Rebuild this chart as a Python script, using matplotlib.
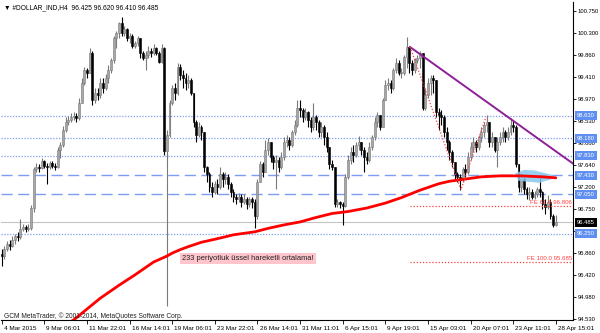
import matplotlib
matplotlib.use('Agg')
import matplotlib.pyplot as plt
import matplotlib.transforms as mtransforms
import numpy as np

plt.rcParams['font.family'] = ['Liberation Sans', 'DejaVu Sans']

# 4H candles, bar 0 = 4 Mar 2015, last bar = 28 Apr 15:01
first_open = 95.85
closes = [95.80, 95.95, 96.05, 96.00, 96.12, 96.20, 96.18, 96.35, 96.38, 96.34,
          96.36, 96.78, 97.55, 97.60, 97.58, 97.72, 97.62, 97.60, 97.68, 97.62,
          97.60, 97.95, 98.05, 98.35, 98.50, 98.55, 98.60, 98.62, 98.58, 98.90,
          99.30, 99.55, 99.50, 99.90, 98.95, 99.10, 99.05, 99.30, 99.20, 99.40,
          99.55, 99.75, 100.20, 100.30, 100.50, 100.30, 100.38, 100.20, 100.25, 100.05,
          100.10, 100.20, 99.90, 99.80, 99.85, 99.95, 99.90, 100.00, 99.90, 99.72,
          100.00, 97.93, 98.25, 98.90, 99.20, 99.10, 99.62, 99.45, 99.40, 99.30,
          99.35, 99.10, 98.50, 98.25, 98.40, 98.30, 97.60, 97.45, 97.20, 97.10,
          97.25, 97.20, 97.45, 97.35, 97.40, 97.25, 97.10, 97.00, 96.95, 97.00,
          96.90, 96.95, 96.85, 96.95, 96.90, 96.60, 97.30, 97.65, 97.50, 97.95,
          98.10, 97.80, 97.70, 97.75, 97.60, 97.80, 98.10, 98.15, 98.05, 98.30,
          98.45, 98.80, 98.75, 98.60, 98.70, 98.55, 98.40, 98.60, 98.50, 98.30,
          98.40, 98.20, 98.00, 97.65, 97.60, 96.85, 96.90, 96.85, 96.82, 97.40,
          97.75, 97.90, 97.85, 98.05, 98.10, 97.95, 97.80, 97.75, 98.00, 98.20,
          98.50, 98.65, 98.40, 98.95, 99.25, 99.30, 99.20, 99.55, 99.70, 99.50,
          99.50, 99.82, 100.02, 99.70, 99.55, 99.75, 99.80, 99.90, 98.80, 99.05,
          99.30, 99.40, 99.35, 98.70, 98.65, 98.60, 98.30, 98.10, 97.90, 97.70,
          97.45, 97.40, 97.35, 97.55, 97.50, 97.80, 98.00, 98.10, 98.00, 98.20,
          98.30, 98.45, 98.50, 98.10, 98.20, 97.95, 98.10, 98.20, 98.30, 98.20,
          98.30, 98.45, 98.40, 97.65, 97.20, 97.35, 97.15, 97.05, 97.10, 97.00,
          97.05, 97.15, 97.10, 96.85, 96.80, 96.90, 96.60, 96.425, 96.485]
highs = [95.95, 96.00, 96.10, 96.12, 96.20, 96.25, 96.28, 96.55, 96.45, 96.42,
         96.44, 96.83, 97.60, 97.68, 97.66, 97.78, 97.75, 97.68, 97.73, 97.72,
         97.67, 98.00, 98.10, 98.42, 98.60, 98.62, 98.68, 98.70, 98.68, 99.00,
         99.40, 99.62, 99.60, 100.00, 99.95, 99.20, 99.20, 99.40, 99.40, 99.48,
         99.65, 99.80, 100.25, 100.35, 100.52, 100.63, 100.45, 100.40, 100.30, 100.28,
         100.15, 100.25, 100.20, 99.95, 99.95, 100.05, 100.00, 100.08, 100.02, 99.95,
         100.08, 100.02, 98.35, 98.95, 99.25, 99.30, 99.70, 99.68, 99.55, 99.50,
         99.45, 99.40, 99.10, 98.55, 98.50, 98.45, 98.30, 97.62, 97.50, 97.30,
         97.32, 97.35, 97.60, 97.50, 97.50, 97.45, 97.30, 97.15, 97.05, 97.08,
         97.05, 97.05, 97.00, 97.00, 97.00, 96.95, 97.35, 97.72, 97.70, 98.15,
         98.18, 98.10, 97.85, 97.85, 97.80, 97.90, 98.20, 98.25, 98.20, 98.35,
         98.55, 98.95, 98.95, 98.80, 98.78, 98.72, 98.60, 98.90, 98.65, 98.55,
         98.50, 98.45, 98.30, 98.00, 97.75, 97.60, 96.95, 96.92, 96.90, 97.45,
         97.85, 98.00, 98.05, 98.10, 98.22, 98.10, 98.00, 97.90, 98.10, 98.25,
         98.60, 98.70, 98.65, 99.00, 99.35, 99.40, 99.35, 99.60, 99.80, 99.75,
         99.60, 99.85, 100.22, 100.05, 99.75, 99.80, 99.85, 99.95, 99.90, 99.20,
         99.40, 99.46, 99.46, 99.35, 98.80, 98.75, 98.65, 98.40, 98.15, 97.95,
         97.70, 97.50, 97.45, 97.60, 97.65, 97.90, 98.10, 98.20, 98.15, 98.25,
         98.40, 98.50, 98.65, 98.50, 98.30, 98.20, 98.20, 98.30, 98.40, 98.35,
         98.40, 98.58, 98.55, 98.45, 97.65, 97.45, 97.40, 97.20, 97.20, 97.15,
         97.12, 97.20, 97.42, 97.12, 96.95, 97.03, 96.95, 96.65, 96.62]
lows = [95.60, 95.75, 95.90, 95.92, 95.98, 96.05, 96.10, 96.15, 96.30, 96.28,
        96.30, 96.33, 96.70, 97.50, 97.50, 97.55, 97.58, 97.25, 97.55, 97.57,
        97.54, 97.58, 97.78, 98.00, 98.30, 98.45, 98.50, 98.55, 98.50, 98.55,
        98.90, 99.25, 99.40, 99.50, 98.85, 98.90, 98.95, 99.00, 99.10, 99.15,
        99.30, 99.50, 99.70, 100.00, 100.20, 100.25, 100.25, 100.15, 100.10, 100.00,
        100.00, 100.05, 99.80, 99.75, 99.55, 99.80, 99.82, 99.85, 99.85, 99.70,
        99.70, 97.85, 94.80, 98.20, 98.85, 98.95, 99.05, 99.35, 99.20, 99.15,
        99.20, 99.05, 98.40, 98.10, 98.20, 98.15, 97.50, 97.30, 97.10, 97.00,
        97.05, 97.05, 97.15, 97.20, 97.25, 97.15, 97.00, 96.90, 96.85, 96.90,
        96.80, 96.85, 96.75, 96.80, 96.78, 96.37, 96.55, 97.30, 97.40, 97.50,
        97.85, 97.70, 97.55, 97.15, 97.50, 97.55, 97.75, 98.00, 97.95, 98.00,
        98.25, 98.40, 98.60, 98.50, 98.55, 98.40, 98.30, 98.35, 98.35, 98.20,
        98.20, 98.05, 97.90, 97.55, 97.54, 96.80, 96.80, 96.78, 96.43, 96.80,
        97.35, 97.65, 97.70, 97.80, 97.95, 97.85, 97.50, 97.65, 97.70, 97.95,
        98.15, 98.40, 98.35, 98.40, 98.95, 99.15, 99.10, 99.15, 99.50, 99.45,
        99.40, 99.45, 99.60, 99.50, 99.45, 99.50, 99.70, 99.60, 98.75, 98.75,
        99.00, 99.05, 99.10, 98.60, 98.35, 98.45, 98.20, 97.95, 97.75, 97.60,
        97.35, 97.30, 97.14, 97.30, 97.40, 97.45, 97.75, 97.90, 97.90, 97.95,
        98.10, 98.20, 98.30, 98.00, 98.00, 97.90, 97.60, 98.05, 98.10, 98.10,
        98.15, 98.25, 98.30, 97.60, 97.10, 97.10, 97.05, 96.95, 96.93, 96.95,
        96.95, 97.00, 97.00, 96.75, 96.65, 96.75, 96.55, 96.38, 96.41]

# 233 period EMA (bar index, price)
ema_bars = [24, 27, 32, 37, 44, 50, 57, 62, 64, 67, 70, 75, 80, 84, 87, 91, 95,
            100, 106, 112, 118, 124, 130, 137, 144, 150, 157, 164, 168, 172,
            176, 180, 187, 195, 203, 208]
ema_vals = [94.42, 94.51, 94.73, 94.95, 95.21, 95.42, 95.68, 95.80, 95.86, 95.93,
            95.99, 96.08, 96.14, 96.19, 96.23, 96.26, 96.29, 96.36, 96.43, 96.49,
            96.58, 96.66, 96.70, 96.77, 96.87, 96.98, 97.13, 97.26, 97.31, 97.34,
            97.37, 97.40, 97.42, 97.42, 97.40, 97.38]

dotted_levels = [98.630, 98.180, 97.830, 96.250]
dashed_levels = [97.430, 97.050]
bid = 96.485
fe_levels = [96.806, 95.685]
fe_names = ['FE 61.8 96.806', 'FE 100.0 95.685']
fe_bars = [153.3, 172.4, 181.8]          # A, B, C
fe_prices = [100.02, 97.14, 98.61]
trend_bars = [153.3, 191.0]
trend_prices = [100.02, 98.57]
blob_bars = [192.7, 196.0, 200.0, 207.3, 207.3, 202.0, 194.0]
blob_prices = [97.47, 97.54, 97.53, 97.43, 97.37, 97.28, 97.32]

ytick_vals = [100.750, 100.300, 99.860, 99.410, 98.970, 98.530, 98.080, 97.640,
              97.200, 96.750, 96.310, 95.860, 95.420, 94.980, 94.530]
xtick_labels = ['4 Mar 2015', '9 Mar 06:01', '11 Mar 22:01', '16 Mar 14:01',
                '19 Mar 06:01', '23 Mar 22:01', '26 Mar 14:01', '31 Mar 11:01',
                '6 Apr 15:01', '9 Apr 19:01', '15 Apr 03:01', '20 Apr 07:01',
                '23 Apr 11:01', '28 Apr 15:01']

c = np.array(closes)
o = np.array([first_open] + closes[:-1])
h = np.maximum(np.array(highs), np.maximum(o, c))
l = np.minimum(np.array(lows), np.minimum(o, c))
x = np.arange(len(c))
up = c >= o

fig = plt.figure(figsize=(6, 3.33), dpi=100)
ax = fig.add_axes([1 / 600, 13 / 333, 572 / 600, 318 / 333])
ax.set_xlim(-0.26, 214.45)
ax.set_ylim(94.51, 100.93)

# levels
for lv in dotted_levels:
    ax.axhline(lv, color='#7d9ef0', lw=0.9, ls=(0, (1, 1.3)), zorder=1)
for lv in dashed_levels:
    ax.axhline(lv, color='#7d9ef0', lw=1.0, ls=(0, (8, 4)), zorder=1)
ax.axhline(bid, color='#c4c4c4', lw=0.8, zorder=1)

# candles
wick_col = np.where(up, '#7a7a7a', 'black')
body_col = np.where(up, '#a6a6a6', 'black')
ax.vlines(x, l, h, colors=wick_col, lw=0.8, zorder=2)
ax.bar(x, np.maximum(np.abs(c - o), 0.012), bottom=np.minimum(o, c), width=0.72,
       color=body_col, edgecolor=wick_col, lw=0.4, zorder=3)

# EMA
ax.plot(ema_bars, ema_vals, color='#ff0000', lw=2, zorder=4,
        solid_capstyle='round', solid_joinstyle='round')

# blob
ax.fill(blob_bars, blob_prices, color='#87c8ee', alpha=0.85, lw=0, zorder=3.5)

# trend line (ray)
slope = (trend_prices[1] - trend_prices[0]) / (trend_bars[1] - trend_bars[0])
xr = ax.get_xlim()[1]
ax.plot([trend_bars[0], xr], [trend_prices[0], trend_prices[0] + slope * (xr - trend_bars[0])],
        color='#8e1f96', lw=1.4, zorder=5)

# fibo expansion
ax.plot(fe_bars, fe_prices, color='#ff4040', lw=0.9, ls=(0, (1, 1.5)), zorder=5)
for lv, name in zip(fe_levels, fe_names):
    ax.hlines(lv, fe_bars[0], xr, color='#ff4040', lw=0.9, ls=(0, (1, 1.5)), zorder=5)
    ax.text(xr - 0.3, lv + 0.02, name, ha='right', va='bottom', fontsize=4.4,
            color='#ff4040', zorder=6)

# note
ax.text(67.8, 95.75, '233 periyotluk üssel hareketli ortalama!', fontsize=5.4,
        ha='left', va='center', color='#202020', zorder=6,
        bbox=dict(boxstyle='square,pad=0.25', fc='#ffc4cc', ec='none'))

# axes styling
for s in ['top', 'left']:
    ax.spines[s].set_visible(False)
for s in ['right', 'bottom']:
    ax.spines[s].set_linewidth(0.8)
ax.yaxis.tick_right()
ax.set_yticks(ytick_vals, [f'{v:.3f}' for v in ytick_vals])
ax.set_xticks(np.arange(0, 209, 16), xtick_labels)
ax.tick_params(axis='x', labelsize=4.6, length=3, width=0.6, pad=1.5, colors='black')
ax.tick_params(axis='y', labelsize=4.2, length=2.2, width=0.6, pad=1.0, colors='black')
off = mtransforms.ScaledTranslation(1.5 / 72, 0, fig.dpi_scale_trans)
for lab in ax.get_xticklabels():
    lab.set_ha('left')
    lab.set_transform(lab.get_transform() + off)

# price labels
ytr = ax.get_yaxis_transform()
for lv in dotted_levels + dashed_levels:
    ax.annotate(f'{lv:.3f}', xy=(1, lv), xycoords=ytr, xytext=(3.0, 0),
                textcoords='offset points', ha='left', va='center', fontsize=4.2,
                color='white', annotation_clip=False, zorder=7,
                bbox=dict(boxstyle='square,pad=0.35', fc='#5f8ff0', ec='none'))
ax.annotate(f'{bid:.3f}', xy=(1, bid), xycoords=ytr, xytext=(3.0, 0),
            textcoords='offset points', ha='left', va='center', fontsize=4.2,
            color='white', annotation_clip=False, zorder=7,
            bbox=dict(boxstyle='square,pad=0.35', fc='black', ec='none'))

fig.text(4 / 600, 1 - 8 / 333, '\u25bc #DOLLAR_IND,H4  96.425 96.620 96.410 96.485',
         fontsize=4.8, va='center', ha='left')
fig.text(4 / 600, 1 - 316 / 333, 'GCM MetaTrader, \u00a9 2001-2014, MetaQuotes Software Corp.',
         fontsize=4.8, va='center', ha='left', color='#202020')

fig.savefig('out.png', dpi=100, facecolor='white')
